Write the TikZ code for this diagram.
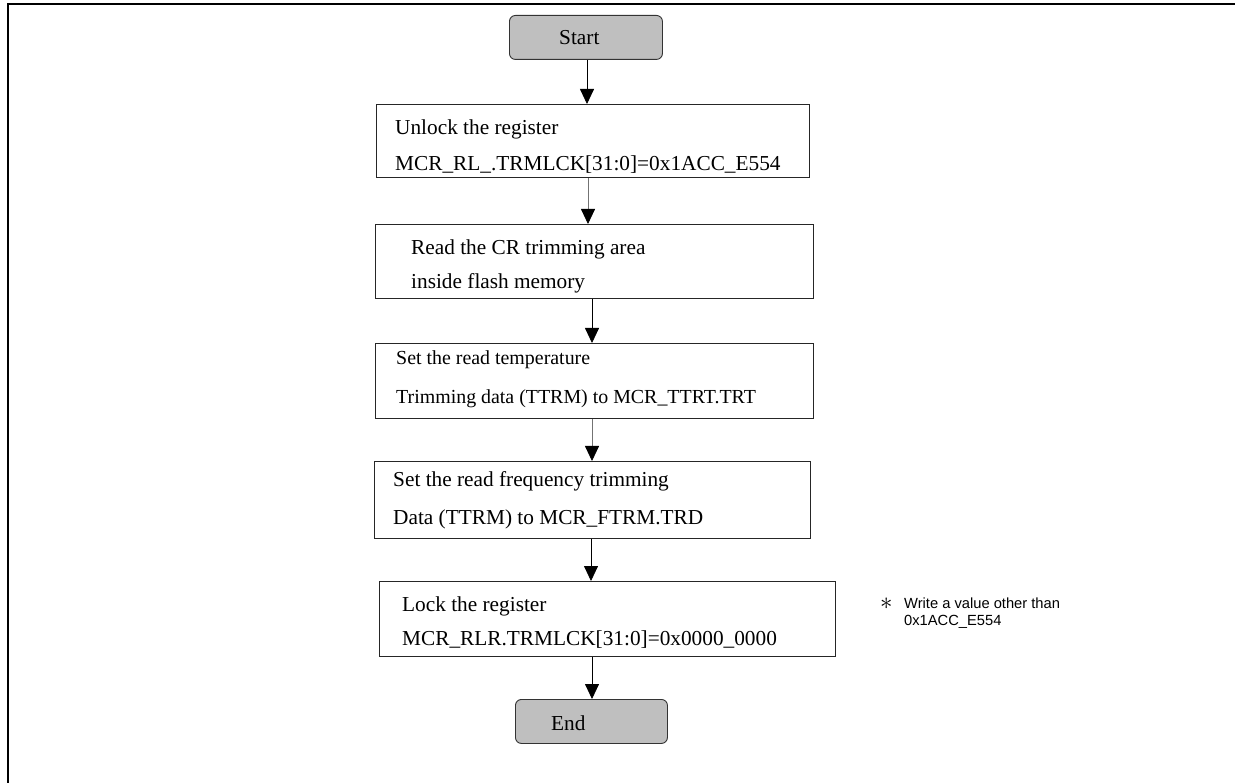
\documentclass[tikz,border=0pt]{standalone}
\usepackage{fontspec}
\setmainfont{Liberation Serif}
\newfontfamily\notefont{Liberation Sans}
\usetikzlibrary{arrows.meta}
\begin{document}
\begin{tikzpicture}[x=1pt,y=-1pt,
  stepbox/.style={draw=black!85,line width=0.9pt,fill=white,inner sep=0pt,anchor=north west},
  termbox/.style={draw=black!80,line width=0.9pt,fill=black!25,rounded corners=6pt,inner sep=0pt,anchor=north west},
  steptext/.style={anchor=base west,inner sep=0pt,font=\fontsize{21.3}{25}\selectfont},
  smalltext/.style={steptext,font=\fontsize{19.9}{24}\selectfont},
  flow/.style={line width=0.8pt,-{Triangle[length=15pt,width=14pt,black]}},
  notetext/.style={anchor=base west,inner sep=0pt,font=\notefont\fontsize{14.7}{17}\selectfont}]
\useasboundingbox (0,0) rectangle (1235,783);

% frame
\draw[line width=1.8pt] (7.7,790) -- (7.7,4.2) -- (1240,4.2);

% terminals
\node[termbox,minimum width=153pt,minimum height=44pt] (start) at (509,15) {};
\node[steptext] (startlbl) at (559,45) {Start};
\node[termbox,minimum width=152pt,minimum height=44pt] (end) at (515,699) {};
\node[steptext] (endlbl) at (551,730) {End};

% process steps
\node[stepbox,minimum width=433pt,minimum height=73pt] (b1) at (376,104) {};
\node[steptext] (t1a) at (395,134.3) {Unlock the register};
\node[steptext] (t1b) at (395,171) {MCR\_RL\_.TRMLCK[31:0]=0x1ACC\_E554};

\node[stepbox,minimum width=438pt,minimum height=74pt] (b2) at (375,224) {};
\node[steptext] (t2a) at (411,255) {Read the CR trimming area};
\node[steptext] (t2b) at (411,288.3) {inside flash memory};

\node[stepbox,minimum width=438pt,minimum height=75pt] (b3) at (375,343) {};
\node[smalltext] (t3a) at (396,365) {Set the read temperature};
\node[smalltext] (t3b) at (396,404) {Trimming data (TTRM) to MCR\_TTRT.TRT};

\node[stepbox,minimum width=436pt,minimum height=77pt] (b4) at (374,461) {};
\node[steptext] (t4a) at (393,486.7) {Set the read frequency trimming};
\node[steptext] (t4b) at (393,525) {Data (TTRM) to MCR\_FTRM.TRD};

\node[stepbox,minimum width=456pt,minimum height=75pt] (b5) at (379,581) {};
\node[steptext] (t5a) at (402,611.7) {Lock the register};
\node[steptext] (t5b) at (402,645) {MCR\_RLR.TRMLCK[31:0]=0x0000\_0000};

% side note
\node[anchor=base west,inner sep=0pt,font=\fontsize{27}{30}\selectfont] (ast) at (880,609) {$\ast$};
\node[notetext] (n1) at (904,608) {Write a value other than};
\node[notetext] (n2) at (904,625) {0x1ACC\_E554};

% connectors
\coordinate (x1) at (587,0);
\coordinate (x2) at (588,0);
\coordinate (x3) at (592,0);
\coordinate (x4) at (592,0);
\coordinate (x5) at (591,0);
\coordinate (x6) at (592,0);
\draw[flow] (start.south -| x1) -- (b1.north -| x1);
\draw[flow,draw=black!55] (b1.south -| x2) -- (b2.north -| x2);
\draw[flow] (b2.south -| x3) -- (b3.north -| x3);
\draw[flow,draw=black!55] (b3.south -| x4) -- (b4.north -| x4);
\draw[flow] (b4.south -| x5) -- (b5.north -| x5);
\draw[flow] (b5.south -| x6) -- (end.north -| x6);
\end{tikzpicture}
\end{document}
